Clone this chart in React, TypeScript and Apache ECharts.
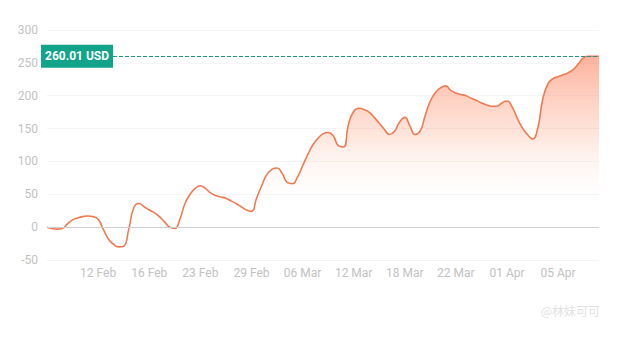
import React, { useEffect, useRef } from "react";
import * as echarts from "echarts";

// Tick labels shown every `tickEvery` points along the category axis
const tickLabels = ["12 Feb", "16 Feb", "23 Feb", "29 Feb", "06 Mar", "12 Mar", "18 Mar", "22 Mar", "01 Apr", "05 Apr"];
const tickEvery = 10;

// Price series (USD)
const prices = [
  0, -2, -3, -2, 5, 11, 14, 16, 17, 16,
  12, -3, -18, -26, -30, -29, -3, 30, 36, 31,
  26, 22, 16, 8, 0, -2, 12, 36, 50, 59,
  63, 59, 52, 48, 46, 44, 40, 36, 31, 26,
  24, 44, 63, 80, 88, 90, 82, 68, 66, 76,
  93, 110, 125, 135, 142, 144, 139, 124, 122, 157,
  176, 181, 179, 175, 167, 158, 149, 141, 146, 160,
  167, 154, 141, 146, 170, 192, 205, 212, 215, 208,
  204, 202, 200, 196, 193, 189, 186, 184, 184, 189,
  192, 183, 166, 151, 141, 134, 150, 195, 218, 226,
  229, 232, 235, 240, 249, 258, 260, 260, 260.01,
];

const lastPrice = 260.01;
const currency = "USD";
const yTicks = { min: -50, max: 300, interval: 50 };

const categories = prices.map((_, i) =>
  i > 0 && i % tickEvery === 0 && tickLabels[i / tickEvery - 1] ? tickLabels[i / tickEvery - 1] : `#${i}`
);

export default function App() {
  const ref = useRef<HTMLDivElement>(null);
  useEffect(() => {
    if (!ref.current) return;
    const chart = echarts.init(ref.current, undefined, { renderer: "svg" });
    const font = "Roboto, 'Noto Sans', sans-serif";
    chart.setOption({
      animation: false,
      backgroundColor: "#ffffff",
      grid: { left: 47, right: 19, top: 30, bottom: 80 },
      xAxis: {
        type: "category",
        data: categories,
        boundaryGap: false,
        axisLine: { show: false, onZero: false },
        axisTick: { show: false },
        splitLine: { show: false },
        axisLabel: {
          interval: (index: number) => index > 0 && index % tickEvery === 0,
          color: "#c2c2c2",
          fontSize: 12,
          fontFamily: font,
          margin: 7,
        },
      },
      yAxis: {
        type: "value",
        min: yTicks.min,
        max: yTicks.max,
        interval: yTicks.interval,
        axisLine: { show: false },
        axisTick: { show: false },
        axisLabel: { color: "#c2c2c2", fontSize: 12, fontFamily: font, margin: 9 },
        splitLine: { lineStyle: { color: "#f4f4f4", width: 1 } },
      },
      series: [
        {
          type: "line",
          data: prices,
          smooth: 0.5,
          showSymbol: false,
          symbol: "none",
          lineStyle: { color: "#f37950", width: 1.6 },
          areaStyle: {
            color: new echarts.graphic.LinearGradient(0, 0, 0, 1, [
              { offset: 0, color: "rgba(252,130,95,0.88)" },
              { offset: 0.4, color: "rgba(253,170,140,0.45)" },
              { offset: 0.8, color: "rgba(255,255,255,0)" },
              { offset: 1, color: "rgba(255,255,255,0)" },
            ]),
          },
          markLine: {
            silent: true,
            symbol: ["none", "none"],
            data: [
              {
                yAxis: 0,
                lineStyle: { color: "#cfcfcf", type: "solid", width: 1 },
                label: { show: false },
              },
              {
                yAxis: lastPrice,
                lineStyle: { color: "#1b9985", type: "dashed", width: 1 },
                label: {
                  show: true,
                  position: "start",
                  distance: -66,
                  formatter: `${lastPrice.toFixed(2)} ${currency}`,
                  backgroundColor: "#12a48b",
                  color: "#ffffff",
                  fontWeight: "bold",
                  fontSize: 12,
                  fontFamily: font,
                  padding: [5, 4, 4, 4],
                  lineHeight: 14,
                },
              },
            ],
          },
        },
      ],
      graphic: [
        {
          type: "text",
          right: 18,
          top: 304,
          style: { text: "@林妹可可", fill: "#e2e2e2", fontSize: 12, fontFamily: "'Noto Sans CJK SC', sans-serif" },
        },
      ],
    });
    return () => chart.dispose();
  }, []);
  return <div ref={ref} style={{ position: "fixed", left: 0, top: 0, width: 618, height: 340 }} />;
}
